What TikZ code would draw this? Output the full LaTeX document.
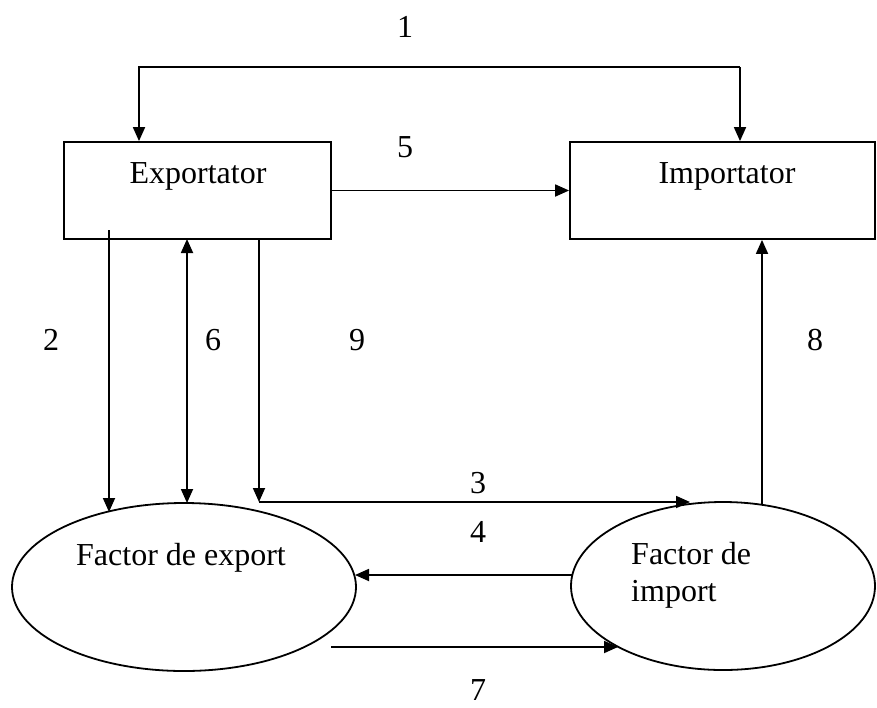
\documentclass[tikz,border=0pt]{standalone}
\usepackage{fontspec}
\setmainfont{Liberation Serif}
\usetikzlibrary{shapes.geometric,arrows.meta}
\begin{document}
\begin{tikzpicture}[x=1pt,y=-1pt,
  every node/.style={font=\fontsize{32}{37}\selectfont},
  box/.style={draw,line width=1.8pt,inner sep=0pt},
  oval/.style={draw,ellipse,line width=1.8pt,inner sep=0pt},
  lbl/.style={inner sep=0pt},
  conn/.style={line width=1.8pt},
  arr/.style={conn,-{Triangle[length=14pt,width=12pt]}},
  arrb/.style={conn,{Triangle[length=14pt,width=12pt]}-{Triangle[length=14pt,width=12pt]}}]
\useasboundingbox (0,0) rectangle (877,707);
% nodes
\node[box,minimum width=267pt,minimum height=97pt] (exp) at (197.5,190.5) {};
\node[box,minimum width=305pt,minimum height=97pt] (imp) at (722.5,190.5) {};
\node[lbl] (expt) at (198,176) {Exportator};
\node[lbl] (impt) at (727,176) {Importator};
\node[oval,minimum width=344pt,minimum height=168pt] (fe) at (184,587) {};
\node[oval,minimum width=304pt,minimum height=168pt] (fi) at (723,586) {};
\node[lbl] (fet) at (181,558) {Factor de export};
\node[lbl,align=left,anchor=west] (fit) at (631,575) {Factor de\\import};
% coordinates
\coordinate (c1l) at (139,67);
\coordinate (c1r) at (740,67);
\coordinate (c2s) at (109,230);
\coordinate (c2e) at (109,512);
\coordinate (c6s) at (187,239);
\coordinate (c6e) at (187,503);
\coordinate (c9s) at (259,239);
\coordinate (c9) at (259,502);
\coordinate (c3e) at (690,502);
\coordinate (c8s) at (762,505);
\coordinate (c4s) at (572,575);
\coordinate (c4e) at (355,575);
\coordinate (c7s) at (331,647);
\coordinate (c7e) at (618,647);
% connectors
\draw[arr] (c1r) -- (c1l) -- (c1l |- exp.north);
\draw[arr] (c1r) -- (c1r |- imp.north);
\draw[arr] (exp.east) -- (imp.west);
\draw[arr] (c2s) -- (c2e);
\draw[arrb] (c6s) -- (c6e);
\draw[arr] (c9s) -- (c9);
\draw[arr] (c9) -- (c3e);
\draw[arr] (c8s) -- (c8s |- imp.south);
\draw[arr] (c4s) -- (c4e);
\draw[arr] (c7s) -- (c7e);
% labels
\node[lbl] (l1) at (405,27) {1};
\node[lbl] (l5) at (405,147) {5};
\node[lbl] (l2) at (51,340) {2};
\node[lbl] (l6) at (213,340) {6};
\node[lbl] (l9) at (357,340) {9};
\node[lbl] (l8) at (815,340) {8};
\node[lbl] (l3) at (478,483) {3};
\node[lbl] (l4) at (478,532) {4};
\node[lbl] (l7) at (478,690) {7};
\end{tikzpicture}
\end{document}
